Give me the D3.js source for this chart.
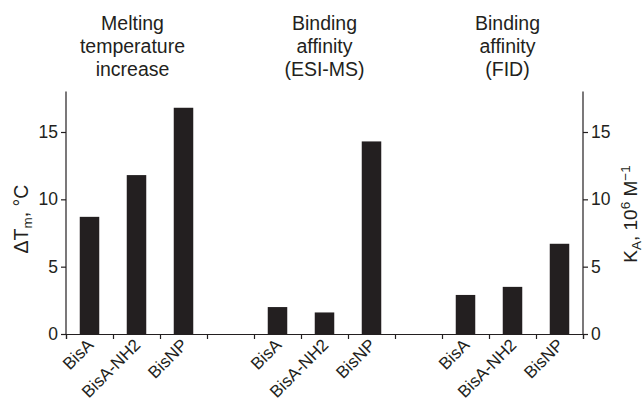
<!DOCTYPE html>
<html>
<head>
<meta charset="utf-8">
<script src="https://cdn.jsdelivr.net/npm/d3@7"></script>
<style>
  html, body { margin: 0; padding: 0; background: #fff; }
  svg { display: block; font-family: "Liberation Sans", Arial, Helvetica, sans-serif; }
</style>
</head>
<body>
<svg id="chart" width="644" height="405"></svg>
<script>
// Compounds measured in every assay
const compounds = ["BisA", "BisA-NH2", "BisNP"];

// Panel headings (one line per array entry)
const groupTitles = [
  ["Melting", "temperature", "increase"],
  ["Binding", "affinity", "(ESI-MS)"],
  ["Binding", "affinity", "(FID)"]
];

// ΔTm in °C (left axis)
const meltingIncrease = [8.7, 11.8, 16.8];
// KA in 10^6 M^-1 from ESI-MS (right axis)
const affinityEsiMs = [2.0, 1.6, 14.3];
// KA in 10^6 M^-1 from FID (right axis)
const affinityFid = [2.9, 3.5, 6.7];

// Axis ticks
const leftTicks = [0, 5, 10, 15];
const rightTicks = [0, 5, 10, 15];

const seriesList = [meltingIncrease, affinityEsiMs, affinityFid];

// Build the slot list: three bars per group, one empty slot between groups
const slots = [];
const bars = [];
seriesList.forEach((vals, g) => {
  compounds.forEach((c, i) => {
    const key = g + ":" + c;
    slots.push(key);
    bars.push({ key, group: g, label: c, value: vals[i] });
  });
  if (g < seriesList.length - 1) slots.push("gap" + g);
});

const ink = "#231f20";
const svg = d3.select("#chart");

const plotLeft = 66, plotRight = 583, plotTop = 91.6, plotBottom = 334;

const x = d3.scaleBand()
  .domain(slots)
  .range([plotLeft, plotRight])
  .paddingInner(0.585)
  .paddingOuter(0.2925);

const yLeft = d3.scaleLinear().domain([0, 18]).range([plotBottom, plotTop]);
const yRight = d3.scaleLinear().domain([0, 18]).range([plotBottom, plotTop]);

// Bars
svg.append("g")
  .selectAll("rect")
  .data(bars)
  .join("rect")
  .attr("x", d => x(d.key))
  .attr("width", x.bandwidth())
  .attr("y", d => (d.group === 0 ? yLeft : yRight)(d.value))
  .attr("height", d => plotBottom - (d.group === 0 ? yLeft : yRight)(d.value))
  .attr("fill", ink);

// Left axis
const axL = svg.append("g")
  .attr("transform", `translate(${plotLeft},0)`)
  .call(d3.axisLeft(yLeft).tickValues(leftTicks).tickSizeOuter(0).tickSize(5).tickPadding(3));

// Right axis
const axR = svg.append("g")
  .attr("transform", `translate(${plotRight},0)`)
  .call(d3.axisRight(yRight).tickValues(rightTicks).tickSizeOuter(0).tickSize(5).tickPadding(3));

// Bottom axis: ticks on slot boundaries, labels placed separately
const step = x.step();
const boundaries = d3.range(slots.length + 1).map(i => plotLeft + i * step);
const xb = d3.scaleLinear().domain([plotLeft, plotRight]).range([plotLeft, plotRight]);
const axB = svg.append("g")
  .attr("transform", `translate(0,${plotBottom})`)
  .call(d3.axisBottom(xb).tickValues(boundaries).tickFormat("").tickSizeOuter(0).tickSize(5));

[axL, axR, axB].forEach(ax => {
  ax.select(".domain").attr("stroke", ink).attr("stroke-width", 1.2);
  ax.selectAll(".tick line").attr("stroke", ink).attr("stroke-width", 1.2);
  ax.selectAll(".tick text")
    .attr("fill", ink)
    .style("font-size", "17.5px")
    .style("font-family", "'Liberation Sans', Arial, sans-serif");
});

// Extend the vertical spines up to the top of the value range
axL.select(".domain").attr("d", `M0,${plotTop}V${plotBottom}`);
axR.select(".domain").attr("d", `M0,${plotTop}V${plotBottom}`);

// Rotated compound labels under each bar
svg.append("g")
  .selectAll("text")
  .data(bars)
  .join("text")
  .attr("transform", d => `translate(${x(d.key) + x.bandwidth() / 2 + 5},${plotBottom + 12}) rotate(-45)`)
  .attr("text-anchor", "end")
  .attr("fill", ink)
  .style("font-size", "17px")
  .text(d => d.label);

// Group headings
const titleShift = [-4, 0, -5];
groupTitles.forEach((lines, g) => {
  const first = x(g + ":" + compounds[0]);
  const last = x(g + ":" + compounds[compounds.length - 1]) + x.bandwidth();
  const cx = (first + last) / 2 + titleShift[g];
  const t = svg.append("text")
    .attr("text-anchor", "middle")
    .attr("fill", ink)
    .style("font-size", "19.5px");
  lines.forEach((line, i) => {
    t.append("tspan").attr("x", cx).attr("y", 29.5 + i * 23).text(line);
  });
});

// Left axis title: ΔTm, °C
const lt = svg.append("text")
  .attr("transform", `translate(28,219) rotate(-90)`)
  .attr("text-anchor", "middle")
  .attr("fill", ink)
  .style("font-size", "19.5px");
lt.append("tspan").text("ΔT");
lt.append("tspan").attr("dy", 4).style("font-size", "13.5px").text("m");
lt.append("tspan").attr("dy", -4).text(", °C");

// Right axis title: KA, 10^6 M^-1
const rt = svg.append("text")
  .attr("transform", `translate(637,214) rotate(-90)`)
  .attr("text-anchor", "middle")
  .attr("fill", ink)
  .style("font-size", "19px");
rt.append("tspan").text("K");
rt.append("tspan").attr("dy", 3.5).style("font-size", "13.5px").text("A");
rt.append("tspan").attr("dy", -3.5).text(", 10");
rt.append("tspan").attr("dy", -7).style("font-size", "13.5px").text("6");
rt.append("tspan").attr("dy", 7).text(" M");
rt.append("tspan").attr("dy", -7).style("font-size", "13.5px").text("−1");
</script>
</body>
</html>
